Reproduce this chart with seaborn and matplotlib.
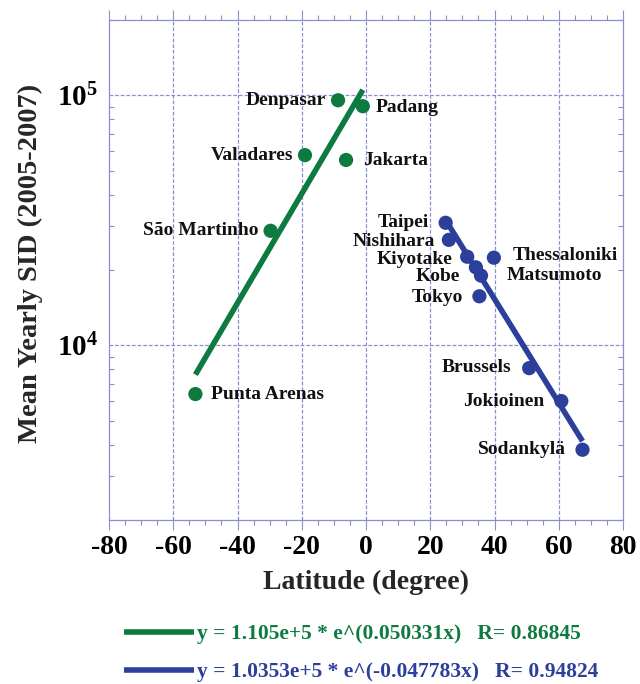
import numpy as np
import pandas as pd
import matplotlib
matplotlib.use("Agg")
import matplotlib.pyplot as plt
import seaborn as sns
from matplotlib.lines import Line2D
from matplotlib.ticker import FixedLocator, MultipleLocator, LogLocator, NullFormatter

# ---------------- data ----------------
south_sites = ["Punta Arenas", "São Martinho", "Valadares", "Jakarta", "Denpasar", "Padang"]
south_lat = [-53.1, -29.7, -19.0, -6.2, -8.7, -1.0]
south_sid = [6380, 28700, 57600, 55100, 95500, 90400]

north_sites = ["Taipei", "Nishihara", "Kiyotake", "Thessaloniki", "Kobe",
               "Matsumoto", "Tokyo", "Brussels", "Jokioinen", "Sodankylä"]
north_lat = [24.8, 25.8, 31.5, 39.8, 34.2, 35.8, 35.3, 50.8, 60.8, 67.4]
north_sid = [30900, 26400, 22600, 22400, 20500, 19000, 15700, 8100, 5980, 3820]

fit_a = [1.105e5, 1.0353e5]
fit_b = [0.050331, -0.047783]
fit_r = [0.86845, 0.94824]
legend_labels = ["y = 1.105e+5 * e^(0.050331x)   R= 0.86845",
                 "y = 1.0353e+5 * e^(-0.047783x)   R= 0.94824"]

x_ticks = [-80, -60, -40, -20, 0, 20, 40, 60, 80]
y_ticks = [1e4, 1e5]
y_ticklabels = [r"$\mathbf{10^{4}}$", r"$\mathbf{10^{5}}$"]

# label offsets in pixels (dx, dy up, ha) -- styling only
south_off = {"Punta Arenas": (16, 0, "left"), "São Martinho": (-12, 0, "right"),
             "Valadares": (-12, 0, "right"), "Jakarta": (17, -1, "left"),
             "Denpasar": (-12, 0, "right"), "Padang": (13, -1, "left")}
north_off = {"Taipei": (-17, 0, "right"), "Nishihara": (-14, -2, "right"),
             "Kiyotake": (-15, -3, "right"), "Thessaloniki": (19, 2, "left"),
             "Kobe": (-16, -9, "right"), "Matsumoto": (26, 0, "left"),
             "Tokyo": (-16, -1, "right"), "Brussels": (-18, 1, "right"),
             "Jokioinen": (-17, 0, "right"), "Sodankylä": (-17, 0, "right")}

GREEN = "#0d7a40"
BLUE = "#2b3f9b"
FRAME = "#8a8fd2"

sns.set_style("white")
plt.rcParams["font.family"] = ["Liberation Serif", "DejaVu Serif"]
plt.rcParams["font.weight"] = "bold"
plt.rcParams["mathtext.fontset"] = "custom"
plt.rcParams["mathtext.bf"] = "Liberation Serif:bold"
plt.rcParams["mathtext.rm"] = "Liberation Serif:bold"

south = pd.DataFrame({"site": south_sites, "lat": south_lat, "sid": south_sid})
north = pd.DataFrame({"site": north_sites, "lat": north_lat, "sid": north_sid})

fig = plt.figure(figsize=(6.4, 6.84), dpi=100)
ax = fig.add_axes([109 / 640, (684 - 520) / 684, 514 / 640, 500 / 684])

ax.set_yscale("log")
ax.set_xlim(-80, 80)
ax.set_ylim(2000, 2e5)

# grid
for xv in x_ticks[1:-1]:
    ax.axvline(xv, color=FRAME, lw=0.9, ls=(0, (3, 1.5)), zorder=0)
for yv in y_ticks:
    ax.axhline(yv, color=FRAME, lw=0.9, ls=(0, (3, 1.5)), zorder=0)

# fit lines
for df, a, b, col in [(south, fit_a[0], fit_b[0], GREEN), (north, fit_a[1], fit_b[1], BLUE)]:
    xs = np.linspace(df["lat"].min(), df["lat"].max(), 50)
    fd = pd.DataFrame({"lat": xs, "sid": a * np.exp(b * xs)})
    sns.lineplot(data=fd, x="lat", y="sid", ax=ax, color=col, lw=4.0,
                 solid_capstyle="butt", zorder=2)

sns.scatterplot(data=south, x="lat", y="sid", ax=ax, color=GREEN, s=105,
                edgecolor="none", zorder=3)
sns.scatterplot(data=north, x="lat", y="sid", ax=ax, color=BLUE, s=105,
                edgecolor="none", zorder=3)

for df, offs in [(south, south_off), (north, north_off)]:
    for _, r in df.iterrows():
        dx, dy, ha = offs[r["site"]]
        ax.annotate(r["site"], (r["lat"], r["sid"]), xytext=(dx * 0.72, dy * 0.72),
                    textcoords="offset points", ha=ha, va="center",
                    fontsize=14, fontweight="bold", color="#111111")

# ticks
ax.xaxis.set_major_locator(FixedLocator(x_ticks))
ax.xaxis.set_minor_locator(MultipleLocator(5))
ax.set_xticklabels([str(t) for t in x_ticks])
ax.yaxis.set_major_locator(FixedLocator(y_ticks))
ax.yaxis.set_minor_locator(LogLocator(base=10, subs=np.arange(2, 10)))
ax.yaxis.set_minor_formatter(NullFormatter())
ax.set_yticklabels(y_ticklabels)

ax.tick_params(axis="x", which="both", direction="out", top=True, bottom=True,
               colors=FRAME, labelcolor="black", labelsize=20, pad=4)
ax.tick_params(axis="x", which="major", length=7, width=0.8)
ax.tick_params(axis="x", which="minor", length=3.5, width=0.8)
ax.tick_params(axis="y", which="both", direction="in", left=True, right=True,
               colors=FRAME, labelcolor="black", labelsize=21, pad=8)
ax.tick_params(axis="y", which="major", length=0)
ax.tick_params(axis="y", which="minor", length=3.5, width=0.8)

for sp in ax.spines.values():
    sp.set_color(FRAME)
    sp.set_linewidth(0.9)

ax.set_xlabel("Latitude (degree)", fontsize=20, fontweight="bold")
ax.set_ylabel("Mean Yearly SID (2005-2007)", fontsize=20.5, fontweight="bold")
ax.xaxis.set_label_coords(0.5, -0.10)
ax.yaxis.set_label_coords(-0.128, 0.514)

handles = [Line2D([], [], color=GREEN, lw=4.0, solid_capstyle="butt"),
           Line2D([], [], color=BLUE, lw=4.0, solid_capstyle="butt")]
leg = fig.legend(handles, legend_labels, loc="upper left",
                 bbox_to_anchor=(124 / 640, 1 - 624 / 684), frameon=False,
                 prop={"family": "Liberation Serif", "weight": "bold", "size": 15.5},
                 handlelength=3.25, handletextpad=0.12, labelspacing=0.85,
                 borderaxespad=0, borderpad=0)
for txt, col in zip(leg.get_texts(), [GREEN, BLUE]):
    txt.set_color(col)

fig.savefig("out.png", dpi=100)
